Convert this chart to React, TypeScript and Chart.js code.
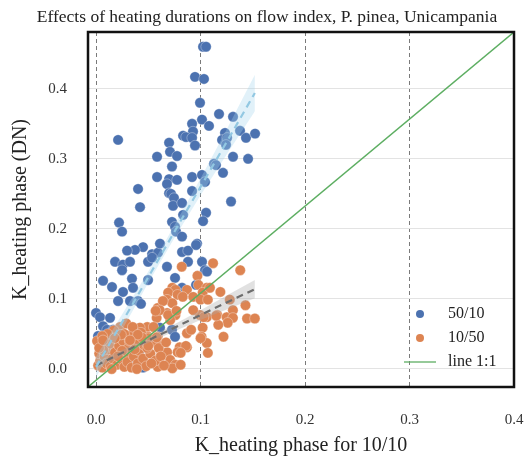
import React, { useEffect, useRef } from 'react';
import { Chart, registerables } from 'chart.js';

Chart.register(...registerables);

const TITLE = 'Effects of heating durations on flow index, P. pinea, Unicampania';
const X_TITLE = 'K_heating phase for 10/10';
const Y_TITLE = 'K_heating phase (DN)';
const LEGEND_LABELS = ['50/10', '10/50', 'line 1:1'];
const X_TICKS = [0, 0.1, 0.2, 0.3, 0.4];
const Y_TICKS = [0, 0.1, 0.2, 0.3, 0.4];
const X_RANGE = [-0.0077, 0.4];
const Y_RANGE = [-0.0257, 0.481];

// 50/10 series
const blueX = [
  0.1024, 0.1053, 0.0947, 0.1033, 0.0211, 0.0995, 0.1014, 0.1081, 0.1177, 0.1311,
  0.0919, 0.0928, 0.0833, 0.0861, 0.0919, 0.0947, 0.0699, 0.0708, 0.0775, 0.0584,
  0.1234, 0.1206, 0.1254, 0.1244, 0.1378, 0.1435, 0.1522, 0.1311, 0.1455, 0.0727,
  0.1129, 0.1148, 0.1215, 0.0584, 0.0699, 0.0775, 0.0679, 0.0919, 0.1014, 0.1043,
  0.0402, 0.0699, 0.0718, 0.0746, 0.0919, 0.0421, 0.0737, 0.0823, 0.1292, 0.0220,
  0.1053, 0.1024, 0.0833, 0.0727, 0.0249, 0.0756, 0.0766, 0.0823, 0.0967, 0.0450,
  0.0373, 0.0297, 0.0536, 0.0593, 0.0612, 0.0823, 0.0880, 0.0182, 0.0258, 0.0325,
  0.0249, 0.0498, 0.0536, 0.0679, 0.0880, 0.1014, 0.1043, 0.0067, 0.0153, 0.0344,
  0.0354, 0.0498, 0.0756, 0.0823, 0.0258, 0.0000, 0.0038, 0.0134, 0.0067, 0.0105,
  0.0727, 0.0756, 0.0612, 0.0019, 0.0957, 0.1062, 0.0957, 0.0211, 0.0325, 0.0402,
  0.0430, 0.0239, 0.0325, 0.0478, 0.0163, 0.0373, 0.0813, 0.0230, 0.0420, 0.0325,
  0.0153, 0.0050, 0.0450,
];
const blueY = [
  0.460, 0.460, 0.417, 0.414, 0.327, 0.380, 0.356, 0.347, 0.364, 0.360,
  0.350, 0.339, 0.333, 0.331, 0.330, 0.319, 0.323, 0.310, 0.304, 0.303,
  0.337, 0.327, 0.330, 0.320, 0.340, 0.330, 0.336, 0.303, 0.300, 0.289,
  0.293, 0.291, 0.280, 0.274, 0.271, 0.270, 0.264, 0.274, 0.277, 0.267,
  0.257, 0.251, 0.250, 0.244, 0.254, 0.231, 0.233, 0.237, 0.239, 0.209,
  0.223, 0.211, 0.220, 0.210, 0.196, 0.203, 0.196, 0.189, 0.179, 0.174,
  0.170, 0.169, 0.164, 0.166, 0.179, 0.167, 0.169, 0.153, 0.149, 0.153,
  0.141, 0.153, 0.159, 0.146, 0.153, 0.153, 0.141, 0.126, 0.117, 0.129,
  0.116, 0.127, 0.130, 0.116, 0.110, 0.080, 0.074, 0.073, 0.061, 0.056,
  0.056, 0.046, 0.059, 0.047, 0.177, 0.139, 0.120, 0.097, 0.097, 0.097,
  0.093, 0.054, 0.047, 0.049, 0.056, 0.037, 0.107, 0.034, 0.027, 0.013,
  0.024, 0.010, 0.002,
];

// 10/50 series
const orangeX = [
  0.112, 0.138, 0.082, 0.097, 0.098, 0.106, 0.102, 0.119, 0.073, 0.087,
  0.076, 0.069, 0.078, 0.068, 0.073, 0.083, 0.093, 0.100, 0.107, 0.128,
  0.143, 0.059, 0.058, 0.068, 0.076, 0.071, 0.0995, 0.106, 0.116, 0.125,
  0.131, 0.131, 0.1445, 0.152, 0.126, 0.122, 0.102, 0.101, 0.106, 0.107,
  0.087, 0.080, 0.087, 0.078, 0.068, 0.061, 0.071, 0.076, 0.073, 0.059,
  0.058, 0.058, 0.059, 0.049, 0.042, 0.050, 0.064, 0.061, 0.057, 0.069,
  0.077, 0.109, 0.117, 0.115, 0.091, 0.093, 0.103, 0.086, 0.081, 0.081,
  0.100, 0.002, 0.004, 0.006, 0.003, 0.008, 0.010, 0.012, 0.005, 0.009,
  0.014, 0.016, 0.018, 0.013, 0.020, 0.022, 0.024, 0.019, 0.026, 0.027,
  0.028, 0.030, 0.031, 0.033, 0.034, 0.036, 0.038, 0.040, 0.041, 0.043,
  0.045, 0.046, 0.048, 0.050, 0.052, 0.055, 0.057, 0.060, 0.023, 0.017,
  0.029, 0.035, 0.011, 0.007, 0.001, 0.015, 0.025, 0.032, 0.039, 0.044,
  0.021, 0.006, 0.003, 0.037, 0.027, 0.049, 0.053, 0.058, 0.062, 0.065,
  0.067, 0.040, 0.0325, 0.024, 0.018, 0.0067, 0.050,
];
const orangeY = [
  0.151, 0.141, 0.146, 0.133, 0.120, 0.116, 0.109, 0.110, 0.116, 0.113,
  0.113, 0.109, 0.106, 0.099, 0.094, 0.103, 0.103, 0.099, 0.099, 0.099,
  0.091, 0.087, 0.073, 0.080, 0.077, 0.070, 0.077, 0.074, 0.077, 0.074,
  0.084, 0.073, 0.072, 0.072, 0.066, 0.046, 0.059, 0.046, 0.037, 0.023,
  0.051, 0.031, 0.031, 0.024, 0.024, 0.017, 0.013, 0.006, 0.001, 0.003,
  0.013, 0.037, 0.046, 0.060, 0.059, 0.046, 0.097, 0.084, 0.083, 0.077,
  0.083, 0.116, 0.063, 0.076, 0.056, 0.084, 0.074, 0.033, 0.023, 0.006,
  0.044, 0.005, 0.012, 0.002, 0.022, 0.018, 0.008, 0.028, 0.035, 0.042,
  0.004, 0.015, 0.024, 0.036, 0.006, 0.033, 0.014, 0.045, 0.040, 0.003,
  0.022, 0.010, 0.030, 0.048, 0.002, 0.018, 0.038, 0.008, 0.026, 0.052,
  0.015, 0.034, 0.004, 0.044, 0.022, 0.060, 0.012, 0.030, 0.060, 0.055,
  0.065, 0.060, 0.050, 0.027, 0.040, 0.000, 0.026, 0.040, 0.000, 0.045,
  0.018, 0.047, 0.030, 0.028, 0.050, 0.030, 0.008, 0.045, 0.018, 0.005,
  0.038, 0.049, 0.041, 0.049, 0.044, 0.041, 0.033,
];

// regression fits and confidence bands
const fitX = [0.0, 0.025, 0.05, 0.075, 0.1, 0.125, 0.152];
const blueFit = [0.003, 0.067, 0.131, 0.196, 0.260, 0.324, 0.394];
const blueLo = [-0.012, 0.056, 0.123, 0.187, 0.248, 0.306, 0.368];
const blueHi = [0.018, 0.078, 0.139, 0.205, 0.272, 0.342, 0.420];
const grayFit = [0.005, 0.023, 0.041, 0.059, 0.077, 0.095, 0.114];
const grayLo = [-0.001, 0.019, 0.037, 0.054, 0.070, 0.085, 0.101];
const grayHi = [0.011, 0.027, 0.045, 0.064, 0.084, 0.105, 0.127];

// 1:1 reference line (drawn across the axes box)
const lineX = [X_RANGE[0], X_RANGE[1]];
const lineY = [Y_RANGE[0], Y_RANGE[1]];

const BLUE = '#4C72B0';
const ORANGE = '#DD8452';
const GREEN = '#5DAE62';
const SERIF = '"Liberation Serif", "DejaVu Serif", serif';

const pts = (xs: number[], ys: number[]) => xs.map((x, i) => ({ x, y: ys[i] }));

export default function App() {
  const ref = useRef<HTMLCanvasElement | null>(null);

  useEffect(() => {
    if (!ref.current) return;

    const decor = {
      id: 'decor',
      afterDraw(chart: any) {
        const { ctx, chartArea } = chart;
        const { left, right, top, bottom } = chartArea;
        ctx.save();
        // frame
        ctx.strokeStyle = '#111';
        ctx.lineWidth = 2.5;
        ctx.strokeRect(left, top, right - left, bottom - top);
        // title
        ctx.fillStyle = '#222';
        ctx.font = `17.5px ${SERIF}`;
        ctx.textAlign = 'center';
        ctx.textBaseline = 'middle';
        ctx.fillText(TITLE, 267, 17);
        // legend
        ctx.font = `16px ${SERIF}`;
        ctx.textAlign = 'left';
        const mx = right - 94;
        const tx = right - 66;
        const ys = [bottom - 73, bottom - 49, bottom - 25];
        const colors = [BLUE, ORANGE];
        for (let i = 0; i < 2; i++) {
          ctx.beginPath();
          ctx.fillStyle = colors[i];
          ctx.arc(mx, ys[i], 4, 0, Math.PI * 2);
          ctx.fill();
        }
        ctx.strokeStyle = GREEN;
        ctx.lineWidth = 1.3;
        ctx.beginPath();
        ctx.moveTo(mx - 16, ys[2]);
        ctx.lineTo(mx + 16, ys[2]);
        ctx.stroke();
        ctx.fillStyle = '#222';
        LEGEND_LABELS.forEach((t, i) => ctx.fillText(t, tx, ys[i]));
        ctx.restore();
      },
    };

    const chart = new Chart(ref.current, {
      type: 'scatter',
      data: {
        datasets: [
          {
            type: 'line',
            data: pts(fitX, blueHi),
            borderWidth: 0,
            pointRadius: 0,
            fill: false,
            order: 2,
          } as any,
          {
            type: 'line',
            data: pts(fitX, blueLo),
            borderWidth: 0,
            pointRadius: 0,
            fill: { target: 0 },
            backgroundColor: 'rgba(165, 212, 236, 0.33)',
            order: 2,
          } as any,
          {
            type: 'line',
            data: pts(fitX, grayHi),
            borderWidth: 0,
            pointRadius: 0,
            fill: false,
            order: 2,
          } as any,
          {
            type: 'line',
            data: pts(fitX, grayLo),
            borderWidth: 0,
            pointRadius: 0,
            fill: { target: 2 },
            backgroundColor: 'rgba(170, 170, 170, 0.35)',
            order: 2,
          } as any,
          {
            type: 'line',
            data: pts(fitX, blueFit),
            borderColor: '#92c8e2',
            borderWidth: 2.2,
            borderDash: [7, 5],
            pointRadius: 0,
            fill: false,
            order: 1,
          } as any,
          {
            type: 'line',
            data: pts(fitX, grayFit),
            borderColor: '#6e6e6e',
            borderWidth: 2.2,
            borderDash: [7, 5],
            pointRadius: 0,
            fill: false,
            order: 1,
          } as any,
          {
            type: 'line',
            label: LEGEND_LABELS[2],
            data: pts(lineX, lineY),
            borderColor: GREEN,
            borderWidth: 1.4,
            pointRadius: 0,
            fill: false,
            order: 0,
          } as any,
          {
            label: LEGEND_LABELS[1],
            data: pts(orangeX, orangeY),
            backgroundColor: ORANGE,
            borderColor: 'rgba(255,255,255,0.55)',
            borderWidth: 0.6,
            pointRadius: 5.2,
            order: 3,
          },
          {
            label: LEGEND_LABELS[0],
            data: pts(blueX, blueY),
            backgroundColor: BLUE,
            borderColor: 'rgba(255,255,255,0.55)',
            borderWidth: 0.6,
            pointRadius: 5.2,
            order: 4,
          },
        ],
      },
      options: {
        animation: false,
        responsive: true,
        maintainAspectRatio: false,
        events: [],
        layout: { padding: { top: 32, right: 12, left: 0, bottom: 0 } },
        plugins: {
          legend: { display: false },
          tooltip: { enabled: false },
          title: { display: false },
        },
        scales: {
          x: {
            type: 'linear',
            min: X_RANGE[0],
            max: X_RANGE[1],
            afterBuildTicks: (s: any) => {
              s.ticks = X_TICKS.map((v) => ({ value: v }));
            },
            afterFit: (s: any) => {
              s.height = 73;
              s.paddingLeft = 0;
              s.paddingRight = 0;
            },
            grid: {
              color: '#7a7a7a',
              lineWidth: 1,
              drawTicks: false,
            },
            border: { display: false, dash: [4, 3] },
            ticks: {
              padding: 24,
              color: '#333',
              font: { family: SERIF, size: 15 },
              callback: (v: any) => Number(v).toFixed(1),
            },
            title: {
              display: true,
              text: X_TITLE,
              color: '#222',
              font: { family: SERIF, size: 20 },
              padding: { top: 0, bottom: 2 },
            },
          },
          y: {
            type: 'linear',
            min: Y_RANGE[0],
            max: Y_RANGE[1],
            afterBuildTicks: (s: any) => {
              s.ticks = Y_TICKS.map((v) => ({ value: v }));
            },
            afterFit: (s: any) => {
              s.width = 88;
              s.paddingTop = 0;
              s.paddingBottom = 0;
            },
            grid: {
              color: '#e3e3e3',
              lineWidth: 1,
              drawTicks: false,
            },
            border: { display: false },
            ticks: {
              padding: 21,
              color: '#333',
              font: { family: SERIF, size: 15 },
              callback: (v: any) => Number(v).toFixed(1),
            },
            title: {
              display: true,
              text: Y_TITLE,
              color: '#222',
              font: { family: SERIF, size: 20 },
              padding: { top: 9, bottom: 0 },
            },
          },
        },
      } as any,
      plugins: [decor],
    });

    (chart.options.scales as any).x.grid.borderDash = [4, 3];
    chart.update();

    return () => chart.destroy();
  }, []);

  return (
    <div style={{ position: 'fixed', left: 0, top: 0, width: 526, height: 460, background: '#fff' }}>
      <canvas ref={ref} />
    </div>
  );
}
